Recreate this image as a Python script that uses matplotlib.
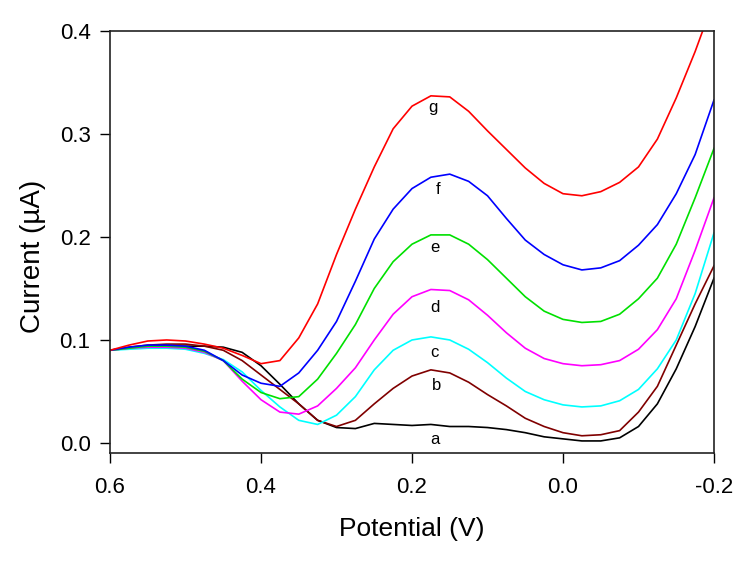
import numpy as np
import matplotlib
matplotlib.use("Agg")
import matplotlib.pyplot as plt

plt.rcParams["font.family"] = ["Liberation Sans", "DejaVu Sans"]

potential = [0.600, 0.575, 0.550, 0.525, 0.500, 0.475, 0.450, 0.425, 0.400,
             0.375, 0.350, 0.325, 0.300, 0.275, 0.250, 0.225, 0.200, 0.175,
             0.150, 0.125, 0.100, 0.075, 0.050, 0.025, 0.000, -0.025, -0.050,
             -0.075, -0.100, -0.125, -0.150, -0.175, -0.200]

curve_a = [0.090, 0.092, 0.093, 0.094, 0.094, 0.094, 0.093, 0.088, 0.075,
           0.057, 0.038, 0.022, 0.015, 0.014, 0.019, 0.018, 0.017, 0.018,
           0.016, 0.016, 0.015, 0.013, 0.010, 0.006, 0.004, 0.002, 0.002,
           0.005, 0.016, 0.038, 0.072, 0.113, 0.160]
curve_b = [0.090, 0.093, 0.095, 0.096, 0.096, 0.094, 0.090, 0.080, 0.066,
           0.052, 0.038, 0.022, 0.016, 0.022, 0.038, 0.053, 0.065, 0.071,
           0.068, 0.059, 0.047, 0.036, 0.024, 0.016, 0.010, 0.007, 0.008,
           0.012, 0.030, 0.055, 0.095, 0.135, 0.172]
curve_c = [0.090, 0.091, 0.092, 0.092, 0.091, 0.087, 0.081, 0.069, 0.051,
           0.035, 0.022, 0.018, 0.027, 0.045, 0.071, 0.090, 0.100, 0.103,
           0.100, 0.091, 0.078, 0.063, 0.050, 0.042, 0.037, 0.035, 0.036,
           0.041, 0.052, 0.072, 0.100, 0.145, 0.204]
curve_d = [0.090, 0.092, 0.093, 0.093, 0.092, 0.088, 0.080, 0.060, 0.042,
           0.030, 0.028, 0.036, 0.053, 0.073, 0.100, 0.125, 0.142, 0.149,
           0.148, 0.139, 0.124, 0.107, 0.092, 0.082, 0.077, 0.075, 0.076,
           0.080, 0.091, 0.110, 0.140, 0.187, 0.238]
curve_e = [0.090, 0.092, 0.094, 0.094, 0.093, 0.089, 0.080, 0.062, 0.049,
           0.043, 0.045, 0.062, 0.087, 0.115, 0.150, 0.176, 0.193, 0.202,
           0.202, 0.193, 0.178, 0.160, 0.142, 0.128, 0.120, 0.117, 0.118,
           0.125, 0.140, 0.160, 0.193, 0.238, 0.286]
curve_f = [0.090, 0.093, 0.095, 0.095, 0.094, 0.090, 0.080, 0.066, 0.058,
           0.055, 0.068, 0.090, 0.118, 0.157, 0.198, 0.227, 0.247, 0.258,
           0.261, 0.254, 0.240, 0.218, 0.197, 0.183, 0.173, 0.168, 0.170,
           0.177, 0.192, 0.212, 0.242, 0.280, 0.333]
curve_g = [0.090, 0.095, 0.099, 0.100, 0.099, 0.096, 0.092, 0.085, 0.077,
           0.080, 0.102, 0.135, 0.183, 0.227, 0.268, 0.305, 0.327, 0.337,
           0.336, 0.322, 0.303, 0.285, 0.267, 0.252, 0.242, 0.240, 0.244,
           0.253, 0.268, 0.295, 0.335, 0.380, 0.430]

curves = [curve_a, curve_b, curve_c, curve_d, curve_e, curve_f, curve_g]
colors = ["#000000", "#800000", "#00FFFF", "#FF00FF", "#00E000", "#0000FF", "#FF0000"]
labels = ["a", "b", "c", "d", "e", "f", "g"]
label_x = [0.170, 0.168, 0.170, 0.170, 0.170, 0.166, 0.172]
label_y = [0.003, 0.056, 0.088, 0.132, 0.190, 0.246, 0.326]

fig = plt.figure(figsize=(7.5, 5.7), dpi=100)
ax = fig.add_axes([0.1467, 0.2053, 0.8053, 0.7404])

for y, c in zip(curves, colors):
    ax.plot(potential, y, color=c, lw=1.2)

for lx, ly, t in zip(label_x, label_y, labels):
    ax.text(lx, ly, t, ha="center", va="center", fontsize=12)

ax.set_xlim(0.6, -0.2)
ax.set_ylim(-0.0097, 0.4)
ax.set_xticks([0.6, 0.4, 0.2, 0.0, -0.2])
ax.set_xticklabels(["0.6", "0.4", "0.2", "0.0", "-0.2"])
ax.set_yticks([0.0, 0.1, 0.2, 0.3, 0.4])
ax.set_yticklabels(["0.0", "0.1", "0.2", "0.3", "0.4"])
ax.tick_params(direction="out", length=7, width=1, labelsize=16)
ax.tick_params(axis="x", pad=10)
ax.tick_params(axis="y", pad=7)
for s in ax.spines.values():
    s.set_linewidth(1.2)
    s.set_color("#222222")

ax.set_xlabel("Potential (V)", fontsize=19, labelpad=14)
ax.set_ylabel("Current (\u00b5A)", fontsize=20)
ax.yaxis.set_label_coords(-0.106, 0.465)

fig.savefig("out.png", dpi=100)
